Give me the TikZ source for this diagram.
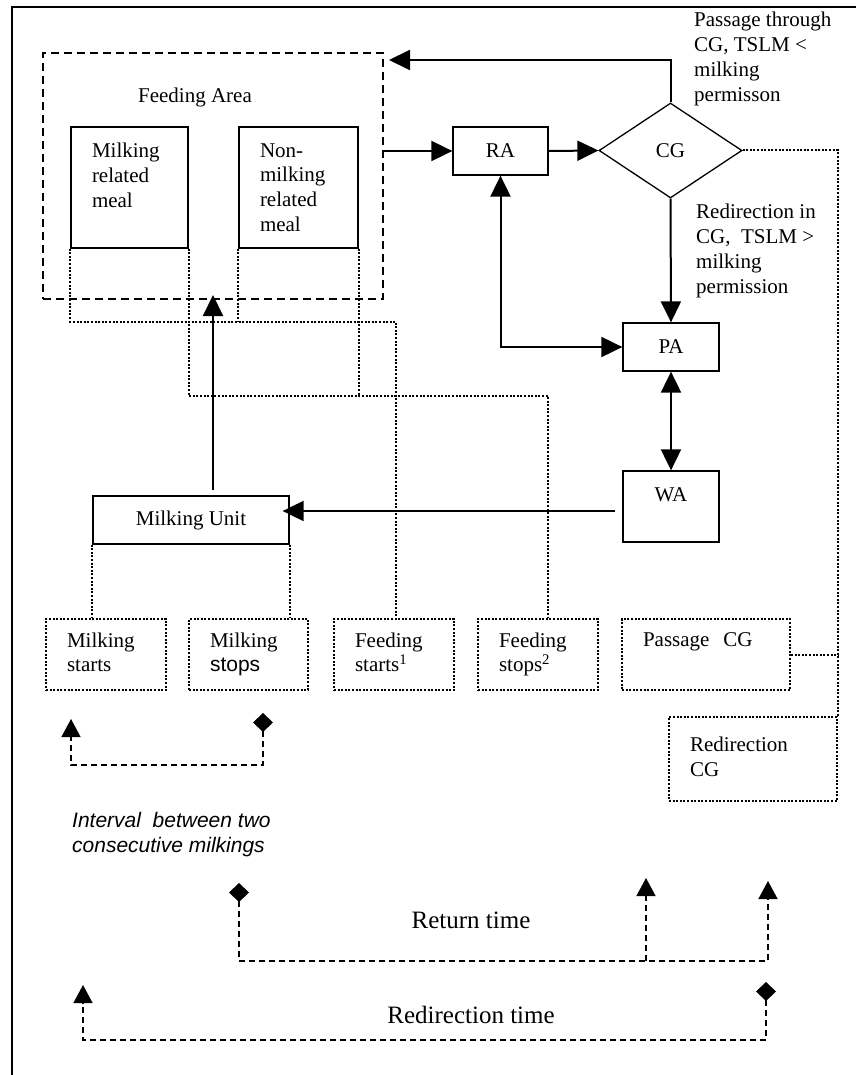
\documentclass[tikz,border=0pt]{standalone}
\usepackage{fontspec}
\setmainfont{Liberation Serif}
\newfontfamily\arialf{Liberation Sans}
\usetikzlibrary{arrows.meta,shapes.geometric}
\tikzset{
  every node/.style={font=\fontsize{21}{24.7}\selectfont},
  frameline/.style={line width=2pt},
  box/.style={draw, rectangle, line width=1.3pt, inner ysep=0pt, inner xsep=0pt},
  tbox/.style={box, align=left, inner xsep=21pt},
  dotl/.style={line width=2pt, dash pattern=on 2pt off 1.6pt},
  dbox/.style={tbox, dotl},
  arr/.style={line width=2pt, -{Triangle[length=21pt,width=20pt]}},
  darr/.style={line width=2pt, {Triangle[length=21pt,width=20pt]}-{Triangle[length=21pt,width=20pt]}},
  tl/.style={line width=1.4pt, dash pattern=on 6pt off 4pt},
  ttip/.tip={Triangle[length=18pt,width=19pt]},
  tdia/.tip={Diamond[length=19pt,width=20pt]},
  lbl/.style={inner sep=0pt, align=left, anchor=north west, font=\fontsize{21}{25}\selectfont}
}
\begin{document}
\begin{tikzpicture}[x=1pt,y=-1pt]
\useasboundingbox (0,0) rectangle (856,1075);
\draw[frameline] (856,7) -- (12,7) -- (12,1075);

% nodes
\node[box, line width=2pt, dash pattern=on 8pt off 5pt, minimum width=340pt, minimum height=246pt] (feed) at (213,176) {};
\node[anchor=base] (falbl) at (195,103) {Feeding Area};
\node[tbox, text width=75pt, minimum height=121pt] (mmeal) at (129.5,187.5) {Milking\\related\\meal\\\mbox{}};
\node[tbox, text width=77pt, minimum height=121pt] (nmeal) at (298.5,187.5) {Non-\\milking\\related\\meal};
\node[box, minimum width=95pt, minimum height=48pt] (ra) at (500.5,151) {RA};
\node[draw, diamond, line width=1.3pt, inner sep=0pt, minimum width=143pt, minimum height=95pt] (cg) at (670.5,150.5) {CG};
\node[box, minimum width=96pt, minimum height=48pt] (pa) at (671,347) {PA};
\node[box, minimum width=96pt, minimum height=71pt, text height=14pt, text depth=24pt] (wa) at (671,506.5) {WA};
\node[box, minimum width=196pt, minimum height=48pt] (mu) at (191,520) {Milking Unit};

\node[dbox, text width=78pt, minimum height=71pt] (mstart) at (106,654.5) {Milking\\starts\vphantom{p}};
\node[dbox, text width=77pt, minimum height=71pt] (mstop) at (248.5,654.5) {Milking\\{\arialf stops}\vphantom{p}};
\node[dbox, text width=78pt, minimum height=71pt] (fstart) at (394,654.5) {Feeding\\starts\textsuperscript{1}\vphantom{p}};
\node[dbox, text width=78pt, minimum height=71pt] (fstop) at (538,654.5) {Feeding\\stops\textsuperscript{2}\vphantom{p}};
\node[dbox, text width=126pt, minimum height=71pt] (pcg) at (706,654.5) {Passage\ \ CG\\\mbox{}\vphantom{p}};
\node[dbox, text width=126pt, minimum height=84pt] (rcg) at (753,759) {Redirection\\CG\vphantom{p}};

\node[lbl] (passlbl) at (694,11.7) {Passage through\\CG, TSLM <\\milking\\permisson};
\node[lbl] (redirlbl) at (696,203.7) {Redirection in\\CG,\ \ TSLM >\\milking\\permission};
\node[lbl, font=\fontsize{21}{25}\selectfont\arialf\itshape] (intlbl) at (72,812) {Interval\ \ between two\\consecutive milkings};
\node[font=\fontsize{25}{30}\selectfont] (rtlbl) at (471,920) {Return time};
\node[font=\fontsize{25}{30}\selectfont] (rdlbl) at (471,1015) {Redirection time};

% solid connectors
\draw[arr] (ra.west -| feed.east) -- (ra.west);
\draw[arr] (ra.east) -- (cg.west);
\draw[arr] (cg.north) |- ([shift={(5,8)}]feed.north east);
\draw[arr] (cg.south) -- (pa.north);
\draw[darr] (pa.south) -- (wa.north);
\draw[darr] (ra.south) |- (pa.west);
\draw[arr] ([shift={(-7,4.5)}]wa.west) -- ([shift={(-7,4.5)}]wa.west -| mu.east);
\draw[arr] ([shift={(22,-5)}]mu.north) -- ([shift={(22,-5)}]mu.north |- feed.south);

% dotted connectors
\draw[dotl] (mmeal.south west) -- ++(0,73) -| ([xshift=2pt]fstart.north);
\draw[dotl] (nmeal.south west) -- ++(0,73);
\draw[dotl] (mmeal.south east) -- ++(0,147) -| ([xshift=10pt]fstop.north);
\draw[dotl] (nmeal.south east) -- ++(0,147);
\draw[dotl] (mu.south west) -- (mu.south west |- mstart.north);
\draw[dotl] (mu.south east) -- (mu.south east |- mstop.north);
\draw[dotl] (cg.east) -| (rcg.north east);
\draw[dotl] (pcg.east) -- (pcg.east -| rcg.east);

% time lines
\coordinate (i1) at (263,713);
\coordinate (i2) at (71,719);
\coordinate (ib) at (0,765);
\draw[tl, {tdia}-{ttip}] (i1) -- (i1 |- ib) -| (i2);

\coordinate (r1) at (239,883);
\coordinate (r2) at (768,881);
\coordinate (r3) at (646,878);
\coordinate (rb) at (0,961);
\draw[tl, {tdia}-{ttip}] (r1) -- (r1 |- rb) -| (r2);
\draw[tl, -{ttip}] (r3 |- rb) -- (r3);

\coordinate (d1) at (766,982);
\coordinate (d2) at (83,985);
\coordinate (db) at (0,1040);
\draw[tl, {tdia}-{ttip}] (d1) -- (d1 |- db) -| (d2);
\end{tikzpicture}
\end{document}
